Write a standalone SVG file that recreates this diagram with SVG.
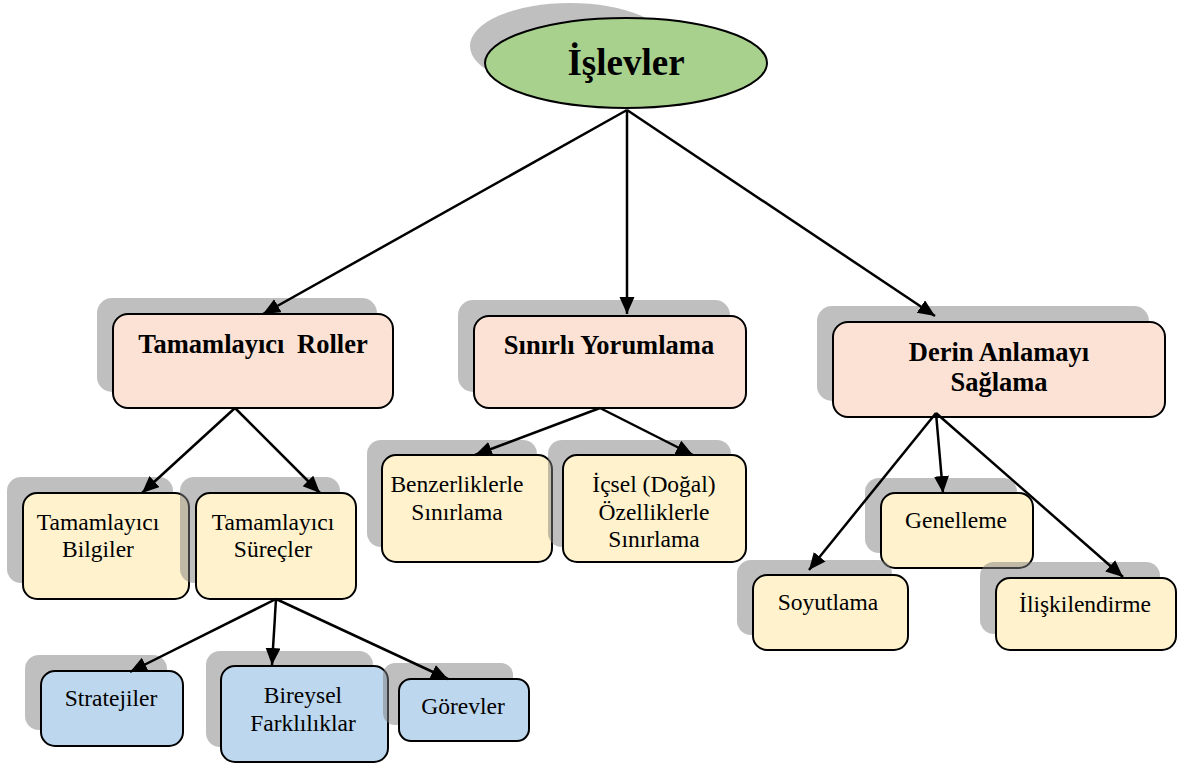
<svg xmlns="http://www.w3.org/2000/svg" width="1184" height="767" viewBox="0 0 1184 767" font-family="'Liberation Serif', 'Times New Roman', 'DejaVu Serif', serif">
<style>
.sh{fill:#808080;fill-opacity:0.5}
.b{stroke:#000;stroke-width:2}
.l1{fill:#fbe2d5}
.l2{fill:#fff2cc}
.l3{fill:#bdd7ee}
text{font-family:'Liberation Serif','Times New Roman','DejaVu Serif',serif;fill:#000;text-anchor:middle}
.tb{font-weight:bold;font-size:26.5px}
.t{font-size:23.5px}
.c{stroke:#000;stroke-width:2.5;fill:none;marker-end:url(#ah)}
</style>
<defs>
<marker id="ah" markerUnits="userSpaceOnUse" markerWidth="18" markerHeight="16" refX="17" refY="7.5" orient="auto">
<path d="M0,0 L17,7.5 L0,15 z" fill="#000"/>
</marker>
</defs>
<rect width="1184" height="767" fill="#fff"/>
<g id="islevler">
<ellipse class="sh" cx="570" cy="46" rx="100" ry="43"/>
<ellipse class="b" cx="626" cy="63" rx="141" ry="45" fill="#a9d18e"/>
<text x="626" y="75" font-family="'Liberation Serif', serif" style="font-weight:bold;font-size:37px">İşlevler</text>
</g>
<g id="tamamlayici-roller">
<rect class="sh" x="97" y="298" width="280" height="94" rx="15"/>
<rect class="b l1" x="113" y="314" width="280" height="94" rx="15"/>
<text class="tb" x="253" y="353" word-spacing="6">Tamamlayıcı Roller</text>
</g>
<g id="sinirli-yorumlama">
<rect class="sh" x="458" y="300" width="272" height="92" rx="15"/>
<rect class="b l1" x="474" y="316" width="272" height="92" rx="15"/>
<text class="tb" x="609" y="354">Sınırlı Yorumlama</text>
</g>
<g id="derin-anlamayi">
<rect class="sh" x="817" y="306" width="332" height="95" rx="15"/>
<rect class="b l1" x="833" y="322" width="332" height="95" rx="15"/>
<text class="tb" x="999" y="361">Derin Anlamayı</text>
<text class="tb" x="999" y="391">Sağlama</text>
</g>
<g id="tamamlayici-bilgiler">
<rect class="sh" x="7" y="477" width="166" height="106" rx="14"/>
<rect class="b l2" x="23" y="493" width="166" height="106" rx="14"/>
<text class="t" x="98" y="530">Tamamlayıcı</text>
<text class="t" x="98" y="557">Bilgiler</text>
</g>
<g id="tamamlayici-surecler">
<rect class="sh" x="180" y="477" width="160" height="106" rx="14"/>
<rect class="b l2" x="196" y="493" width="160" height="106" rx="14"/>
<text class="t" x="273" y="530">Tamamlayıcı</text>
<text class="t" x="273" y="557">Süreçler</text>
</g>
<g id="benzerliklerle">
<rect class="sh" x="367" y="440" width="170" height="107" rx="14"/>
<rect class="b l2" x="382" y="455" width="170" height="107" rx="14"/>
<text class="t" x="457" y="492">Benzerliklerle</text>
<text class="t" x="457" y="520">Sınırlama</text>
</g>
<g id="icsel">
<rect class="sh" x="548" y="440" width="183" height="107" rx="14"/>
<rect class="b l2" x="563" y="455" width="183" height="107" rx="14"/>
<text class="t" x="654" y="492">İçsel (Doğal)</text>
<text class="t" x="654" y="520">Özelliklerle</text>
<text class="t" x="654" y="547">Sınırlama</text>
</g>
<g id="genelleme">
<rect class="sh" x="865" y="478" width="152" height="75" rx="14"/>
<rect class="b l2" x="881" y="493" width="152" height="75" rx="14"/>
<text class="t" x="956" y="528">Genelleme</text>
</g>
<g id="soyutlama">
<rect class="sh" x="737" y="560" width="155" height="75" rx="14"/>
<rect class="b l2" x="753" y="575" width="155" height="75" rx="14"/>
<text class="t" x="828" y="610">Soyutlama</text>
</g>
<g id="iliskilendirme">
<rect class="sh" x="980" y="562" width="180" height="72" rx="14"/>
<rect class="b l2" x="996" y="578" width="180" height="72" rx="14"/>
<text class="t" x="1085" y="612">İlişkilendirme</text>
</g>
<g id="stratejiler">
<rect class="sh" x="25" y="655" width="142" height="75" rx="14"/>
<rect class="b l3" x="41" y="671" width="142" height="75" rx="14"/>
<text class="t" x="111" y="706">Stratejiler</text>
</g>
<g id="bireysel">
<rect class="sh" x="206" y="651" width="167" height="96" rx="14"/>
<rect class="b l3" x="221" y="666" width="167" height="96" rx="14"/>
<text class="t" x="303" y="703">Bireysel</text>
<text class="t" x="303" y="731">Farklılıklar</text>
</g>
<g id="gorevler">
<rect class="sh" x="383" y="663" width="130" height="62" rx="12"/>
<rect class="b l3" x="399" y="679" width="130" height="62" rx="12"/>
<text class="t" x="463" y="714">Görevler</text>
</g>
<g id="connectors">
<line class="c" x1="627" y1="110" x2="263" y2="314"/>
<line class="c" x1="627" y1="110" x2="627" y2="314"/>
<line class="c" x1="627" y1="110" x2="935" y2="316"/>
<line class="c" x1="235" y1="408" x2="142" y2="493"/>
<line class="c" x1="235" y1="408" x2="320" y2="493"/>
<line class="c" x1="600" y1="408" x2="475" y2="455"/>
<line class="c" x1="600" y1="408" x2="693" y2="455"/>
<line class="c" x1="936" y1="413" x2="809" y2="570"/>
<line class="c" x1="936" y1="413" x2="943" y2="493"/>
<line class="c" x1="936" y1="413" x2="1123" y2="577"/>
<line class="c" x1="276" y1="599" x2="130" y2="672"/>
<line class="c" x1="276" y1="599" x2="272" y2="665"/>
<line class="c" x1="276" y1="599" x2="448" y2="679"/>
</g>
</svg>
